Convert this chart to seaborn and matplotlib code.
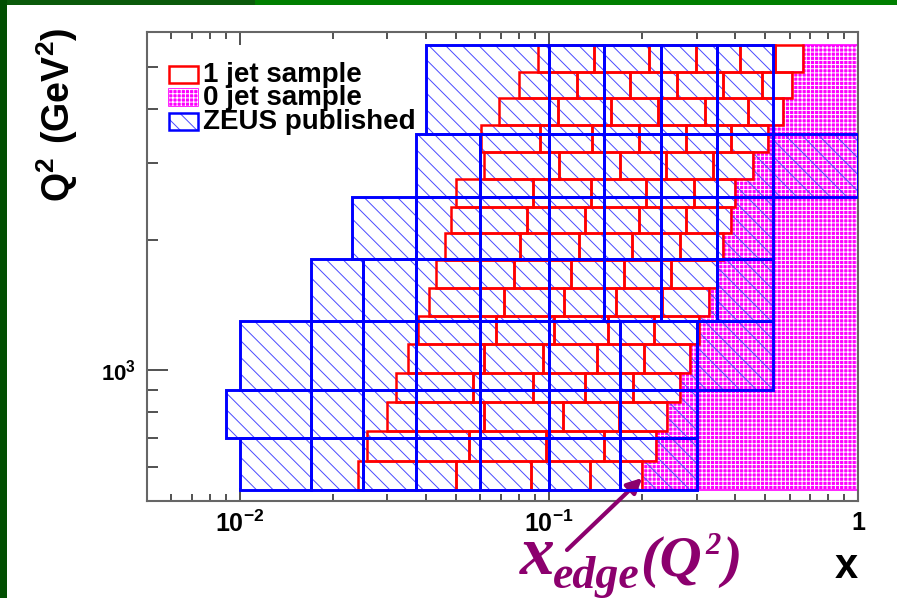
import matplotlib
matplotlib.use("Agg")
import matplotlib.pyplot as plt
from matplotlib.patches import Rectangle, Polygon
from matplotlib.ticker import FixedLocator, FuncFormatter, NullFormatter
import seaborn as sns

# ZEUS published bins: Q2 edges (GeV^2) and the x edges inside each Q2 bin (bottom -> top)
zeus_q2_edges = [530, 700, 900, 1300, 1800, 2500, 3500, 5600]
zeus_x_edges = [
    [0.010, 0.017, 0.025, 0.037, 0.060, 0.10, 0.17, 0.30],
    [0.009, 0.017, 0.025, 0.037, 0.060, 0.10, 0.17, 0.30],
    [0.010, 0.017, 0.025, 0.037, 0.060, 0.10, 0.17, 0.30, 0.53],
    [0.017, 0.025, 0.037, 0.060, 0.10, 0.15, 0.23, 0.35, 0.53],
    [0.023, 0.037, 0.060, 0.10, 0.15, 0.23, 0.35, 0.53],
    [0.037, 0.060, 0.10, 0.15, 0.23, 0.35, 0.53, 1.0],
    [0.040, 0.10, 0.15, 0.23, 0.35, 0.53],
]

# 1-jet sample bins: Q2 edges and x edges per row; the last edge of a row is x_edge(Q2)
jet1_q2_edges = [530, 617, 723, 843, 985, 1150, 1330, 1545, 1790, 2065,
                 2380, 2755, 3185, 3680, 4225, 4865, 5600]
jet1_x_edges = [
    [0.0241, 0.0501, 0.0877, 0.136, 0.200],
    [0.0258, 0.0550, 0.0978, 0.150, 0.222],
    [0.0300, 0.0615, 0.111, 0.168, 0.240],
    [0.0321, 0.0568, 0.0885, 0.131, 0.187, 0.264],
    [0.0349, 0.0615, 0.0956, 0.143, 0.202, 0.286],
    [0.0378, 0.0671, 0.104, 0.155, 0.218, 0.306],
    [0.0409, 0.0717, 0.112, 0.164, 0.232, 0.330],
    [0.0430, 0.0769, 0.118, 0.174, 0.248, 0.349],
    [0.0460, 0.0808, 0.125, 0.185, 0.264, 0.366],
    [0.0480, 0.0849, 0.131, 0.196, 0.277, 0.387],
    [0.0501, 0.0885, 0.137, 0.205, 0.293, 0.400],
    [0.0615, 0.108, 0.169, 0.239, 0.340, 0.456],
    [0.0604, 0.0933, 0.138, 0.196, 0.277, 0.387, 0.512],
    [0.0688, 0.107, 0.159, 0.225, 0.320, 0.441, 0.570],
    [0.0802, 0.123, 0.182, 0.259, 0.364, 0.487, 0.609],
    [0.0919, 0.140, 0.211, 0.298, 0.413, 0.538, 0.663],
]

x_range = (0.005, 1.0)
q2_range = (500, 6000)
x_major = [0.01, 0.1, 1.0]
x_major_labels = [r"$\mathbf{10^{-2}}$", r"$\mathbf{10^{-1}}$", r"$\mathbf{1}$"]
q2_major = [1000]
q2_major_labels = [r"$\mathbf{10^{3}}$"]

legend_labels = ["1 jet sample", "0 jet sample", "ZEUS published"]

RED = "#ff0000"
BLUE = "#0000ff"
HATCH_BLUE = "#4a4aff"
MAGENTA = "#ff00ff"
PURPLE = "#8c006e"

sns.set_theme(style="ticks")
plt.rcParams.update({
    "font.family": ["Liberation Sans", "DejaVu Sans"],
    "font.weight": "bold",
    "mathtext.fontset": "custom",
    "mathtext.bf": "Liberation Sans:bold",
    "mathtext.rm": "Liberation Sans:bold",
    "mathtext.default": "bf",
    "hatch.linewidth": 0.7,
    "axes.facecolor": "white",
    "figure.facecolor": "white",
})

W, H = 897, 598
fig = plt.figure(figsize=(W / 100, H / 100), dpi=100)


def fig_xy(px, py):
    return px / W, 1 - py / H


ax_left, ax_right, ax_top, ax_bottom = 146.7, 858.4, 32.3, 501.0
ax = fig.add_axes([ax_left / W, 1 - ax_bottom / H,
                   (ax_right - ax_left) / W, (ax_bottom - ax_top) / H])
ax.set_xscale("log")
ax.set_yscale("log")
ax.set_xlim(*x_range)
ax.set_ylim(*q2_range)

# 0-jet region: staircase from x_edge(Q2) out to x = 1
verts = [(x_range[1], jet1_q2_edges[0])]
for i, xs in enumerate(jet1_x_edges):
    verts.append((xs[-1], jet1_q2_edges[i]))
    verts.append((xs[-1], jet1_q2_edges[i + 1]))
verts.append((x_range[1], jet1_q2_edges[-1]))
ax.add_patch(Polygon(verts, closed=True, facecolor=MAGENTA, edgecolor="none", zorder=1))
ax.add_patch(Polygon(verts, closed=True, fill=False, edgecolor="white",
                     hatch="++++", lw=0, zorder=1.1))
ax.add_patch(Polygon(verts, closed=True, fill=False, edgecolor=MAGENTA, lw=1.2, zorder=1.2))

# ZEUS bins: hatching
for i, xs in enumerate(zeus_x_edges):
    q_lo, q_hi = zeus_q2_edges[i], zeus_q2_edges[i + 1]
    for a, b in zip(xs[:-1], xs[1:]):
        ax.add_patch(Rectangle((a, q_lo), b - a, q_hi - q_lo, fill=False,
                               edgecolor=HATCH_BLUE, hatch="\\\\", lw=0, zorder=2))

# 1-jet bricks
for i, xs in enumerate(jet1_x_edges):
    q_lo, q_hi = jet1_q2_edges[i], jet1_q2_edges[i + 1]
    for a, b in zip(xs[:-1], xs[1:]):
        ax.add_patch(Rectangle((a, q_lo), b - a, q_hi - q_lo, fill=False,
                               edgecolor=RED, lw=1.8, zorder=3))

# ZEUS bins: outlines
for i, xs in enumerate(zeus_x_edges):
    q_lo, q_hi = zeus_q2_edges[i], zeus_q2_edges[i + 1]
    for a, b in zip(xs[:-1], xs[1:]):
        ax.add_patch(Rectangle((a, q_lo), b - a, q_hi - q_lo, fill=False,
                               edgecolor=BLUE, lw=2.1, zorder=4))

# axes styling
for s in ax.spines.values():
    s.set_color("#666666")
    s.set_linewidth(1.5)
ax.xaxis.set_major_locator(FixedLocator(x_major))
ax.xaxis.set_major_formatter(FuncFormatter(lambda v, p: x_major_labels[p] if p < len(x_major_labels) else ""))
ax.xaxis.set_minor_locator(FixedLocator([k * 10.0 ** e for e in (-3, -2, -1) for k in range(2, 10)
                                         if x_range[0] < k * 10.0 ** e < x_range[1]]))
ax.xaxis.set_minor_formatter(NullFormatter())
ax.yaxis.set_major_locator(FixedLocator(q2_major))
ax.yaxis.set_major_formatter(FuncFormatter(lambda v, p: q2_major_labels[p] if p < len(q2_major_labels) else ""))
ax.yaxis.set_minor_locator(FixedLocator([k * 10.0 ** e for e in (2, 3) for k in range(2, 10)
                                         if q2_range[0] < k * 10.0 ** e < q2_range[1]]))
ax.yaxis.set_minor_formatter(NullFormatter())
ax.tick_params(which="both", direction="in", top=True, right=False, color="#222222",
               width=1.1, labelcolor="black")
ax.tick_params(axis="x", which="major", length=9.4, pad=7, labelsize=18)
ax.tick_params(axis="x", which="minor", length=5)
ax.tick_params(axis="y", which="major", length=15, pad=8, labelsize=16)
ax.tick_params(axis="y", which="minor", length=8)

# axis titles
fig.text(*fig_xy(57, 28), r"$\mathbf{Q^{2}\ (GeV^{2})}$", rotation=90, ha="center", va="top",
         fontsize=27, color="black")
fig.text(*fig_xy(846, 567), "x", ha="center", va="center", fontsize=30, fontweight="bold",
         color="black")

# legend
handle_rows = [74, 97, 121]
for label, py, kind in zip(legend_labels, handle_rows, ["jet1", "jet0", "zeus"]):
    x0, y0 = fig_xy(169, py + 8.5)
    w, h = 29 / W, 17 / H
    if kind == "jet1":
        fig.add_artist(Rectangle((x0, y0), w, h, transform=fig.transFigure, fill=False,
                                 edgecolor=RED, lw=1.8))
    elif kind == "jet0":
        fig.add_artist(Rectangle((x0, y0), w, h, transform=fig.transFigure,
                                 facecolor=MAGENTA, edgecolor=MAGENTA, lw=1.2))
        fig.add_artist(Rectangle((x0, y0), w, h, transform=fig.transFigure, fill=False,
                                 edgecolor="white", hatch="++++", lw=0))
    else:
        fig.add_artist(Rectangle((x0, y0), w, h, transform=fig.transFigure, fill=False,
                                 edgecolor=HATCH_BLUE, hatch="\\\\", lw=0))
        fig.add_artist(Rectangle((x0, y0), w, h, transform=fig.transFigure, fill=False,
                                 edgecolor=BLUE, lw=1.8))
    fig.text(*fig_xy(203, py + 1), label, ha="left", va="center", fontsize=20,
             fontweight="bold", color="black")

# x_edge(Q^2) annotation
serif = dict(family=["Liberation Serif", "DejaVu Serif"], style="italic", weight="bold", color=PURPLE)
fig.text(*fig_xy(520, 574), "x", ha="left", va="baseline", fontsize=50, **serif)
fig.text(*fig_xy(553, 588), "edge", ha="left", va="baseline", fontsize=33, **serif)
fig.text(*fig_xy(640, 576), "(Q", ha="left", va="baseline", fontsize=42, **serif)
fig.text(*fig_xy(705, 554), "2", ha="left", va="baseline", fontsize=22, **serif)
fig.text(*fig_xy(722, 576), ")", ha="left", va="baseline", fontsize=42, **serif)
ax.annotate("", xy=(jet1_x_edges[0][-1], 565), xycoords="data",
            xytext=(567, H - 550), textcoords="figure pixels",
            arrowprops=dict(arrowstyle="-|>", color=PURPLE, lw=3.0, mutation_scale=22,
                            shrinkA=0, shrinkB=0), annotation_clip=False)

# page border strips
fig.add_artist(Rectangle((0, 1 - 5 / H), 1, 5 / H, transform=fig.transFigure,
                         facecolor="#007f00", edgecolor="none"))
fig.add_artist(Rectangle((0, 1 - 5 / H), 255 / W, 5 / H, transform=fig.transFigure,
                         facecolor="#0b5a0b", edgecolor="none"))
fig.add_artist(Rectangle((0, 0), 7 / W, 1, transform=fig.transFigure,
                         facecolor="#024f02", edgecolor="none"))

fig.savefig("out.png", dpi=100)
